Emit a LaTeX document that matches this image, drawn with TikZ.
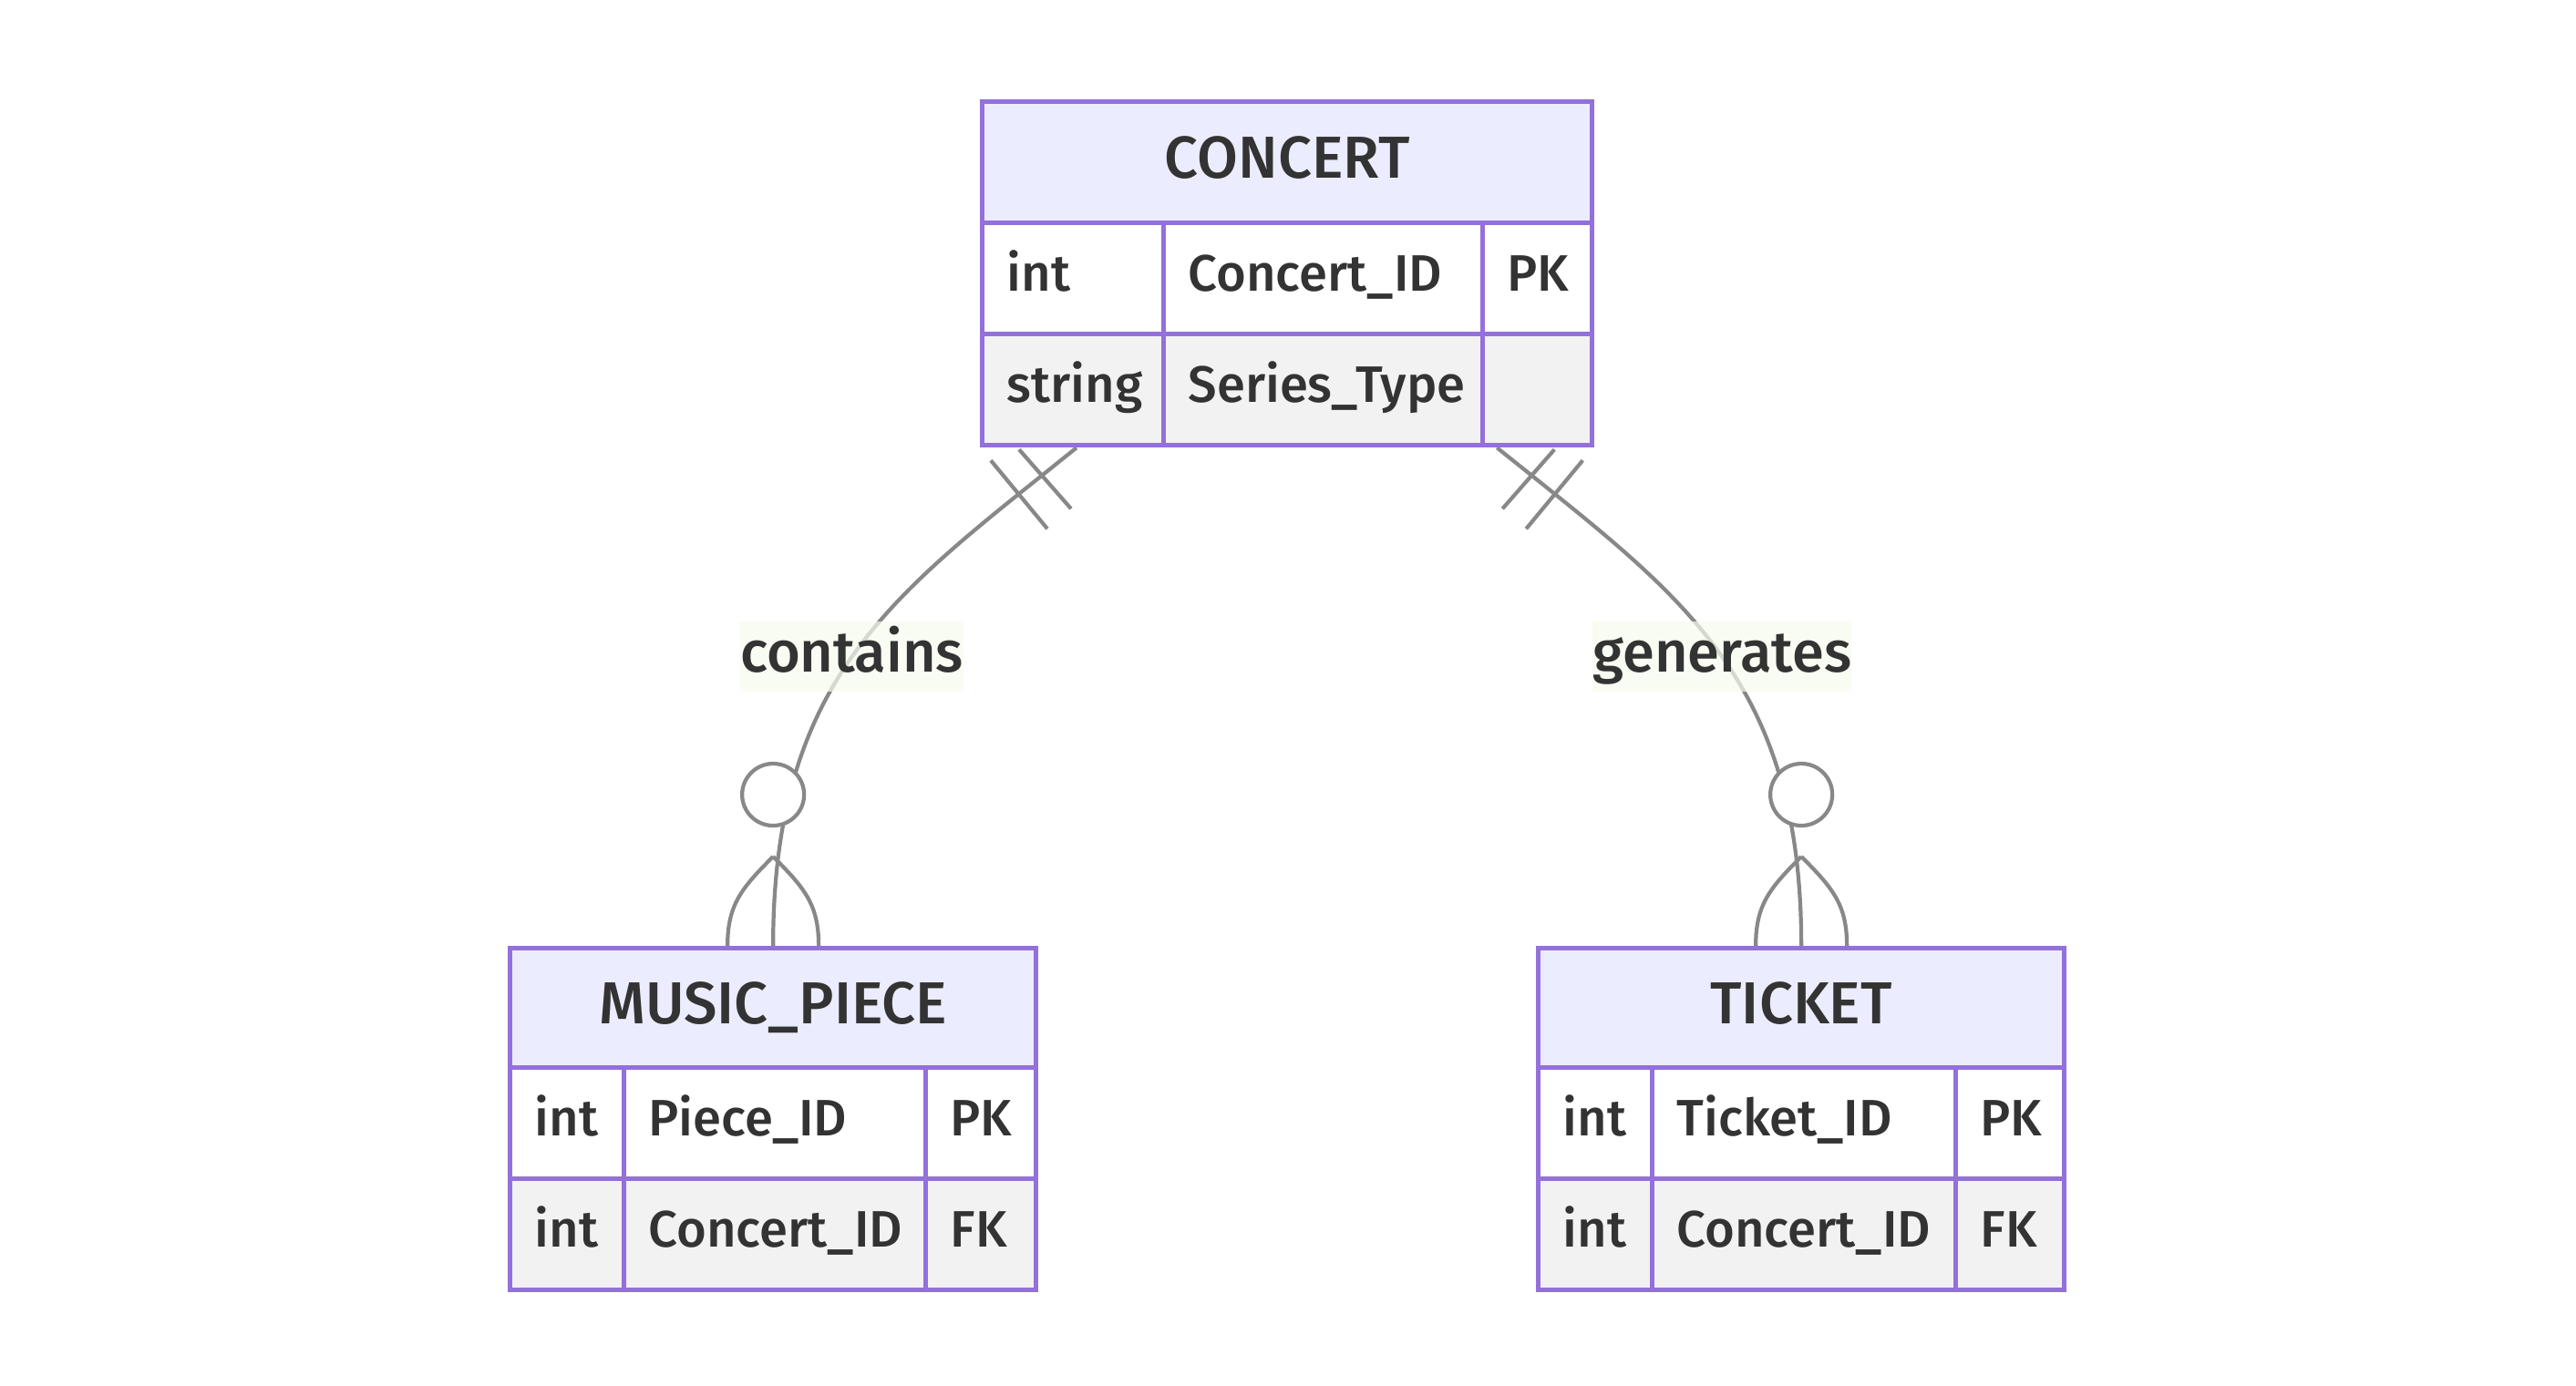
\documentclass[tikz,border=0pt]{standalone}
\usepackage{fontspec}
\setmainfont{Fira Sans}[UprightFont={* Medium}]

\definecolor{erborder}{HTML}{9370DB}
\definecolor{erheadfill}{HTML}{ECECFF}
\definecolor{errowfill}{HTML}{F2F2F2}
\definecolor{erline}{HTML}{888888}
\definecolor{ertext}{HTML}{333333}
\definecolor{erlabelfill}{RGB}{246,251,236}

\newcommand{\erhead}{\fontsize{18.5}{22}\selectfont}
\newcommand{\erattr}{\fontsize{16}{19}\selectfont}
\newcommand{\erlabel}{\fontsize{18}{22}\selectfont}

\tikzset{
  cell/.style={draw=erborder, line width=1.5pt, inner xsep=0.27cm, inner ysep=0pt,
    anchor=north west, align=left, text=ertext, font=\erattr,
    minimum height=1.22cm, text height=12.5pt, text depth=4.6pt},
  headcell/.style={cell, fill=erheadfill, align=center, inner xsep=0pt, font=\erhead,
    text height=14.5pt, text depth=4.4pt},
  oddcell/.style={cell, fill=white},
  evencell/.style={cell, fill=errowfill},
  rel/.style={draw=erline, line width=1.2pt},
  relname/.style={fill=erlabelfill, fill opacity=0.7, text opacity=1, text=ertext,
    font=\erlabel, inner xsep=0pt, inner ysep=0pt, text height=15.7pt, text depth=6.2pt},
  zeroend/.style={circle, draw=erline, line width=1.2pt, fill=white,
    minimum size=0.68cm, inner sep=0pt}
}

\begin{document}
\begin{tikzpicture}[x=1cm, y=-1cm]
\useasboundingbox (0,0) rectangle (28.26,15.20);

% CONCERT
\node[headcell, text width=6.69cm, minimum height=1.33cm] (concert) at (10.75,1.09) {CONCERT};
\node[oddcell, text width=1.45cm] (concert-t1) at (10.75,2.42) {int};
\node[oddcell, text width=2.96cm] (concert-n1) at (12.74,2.42) {Concert\_ID};
\node[oddcell, text width=0.66cm] (concert-k1) at (16.24,2.42) {PK};
\node[evencell, text width=1.45cm] (concert-t2) at (10.75,3.64) {string};
\node[evencell, text width=2.96cm] (concert-n2) at (12.74,3.64) {Series\_Type};
\node[evencell, text width=0.66cm] (concert-k2) at (16.24,3.64) {};

% MUSIC_PIECE
\node[headcell, text width=5.77cm, minimum height=1.31cm] (piece) at (5.57,10.38) {MUSIC\_PIECE};
\node[oddcell, text width=0.71cm] (piece-t1) at (5.57,11.69) {int};
\node[oddcell, text width=2.77cm] (piece-n1) at (6.82,11.69) {Piece\_ID};
\node[oddcell, text width=0.67cm] (piece-k1) at (10.13,11.69) {PK};
\node[evencell, text width=0.71cm] (piece-t2) at (5.57,12.91) {int};
\node[evencell, text width=2.77cm] (piece-n2) at (6.82,12.91) {Concert\_ID};
\node[evencell, text width=0.67cm] (piece-k2) at (10.13,12.91) {FK};

% TICKET
\node[headcell, text width=5.77cm, minimum height=1.31cm] (ticket) at (16.85,10.38) {TICKET};
\node[oddcell, text width=0.71cm] (ticket-t1) at (16.85,11.69) {int};
\node[oddcell, text width=2.79cm] (ticket-n1) at (18.10,11.69) {Ticket\_ID};
\node[oddcell, text width=0.65cm] (ticket-k1) at (21.43,11.69) {PK};
\node[evencell, text width=0.71cm] (ticket-t2) at (16.85,12.91) {int};
\node[evencell, text width=2.79cm] (ticket-n2) at (18.10,12.91) {Concert\_ID};
\node[evencell, text width=0.65cm] (ticket-k2) at (21.43,12.91) {FK};

% contains
\coordinate (contains-top) at ([xshift=1.06cm]concert-t2.south west);
\draw[rel] (contains-top) .. controls +(-1.95,1.575) and +(0,-3) .. (piece.north)
  node[relname, pos=0.52] (contains) {contains};
\draw[rel] ([shift={(-0.94,0.14)}]contains-top) -- ++(0.62,0.75);
\draw[rel] ([shift={(-0.63,0.02)}]contains-top) -- ++(0.57,0.65);
\node[zeroend] (contains-zero) at ([yshift=1.66cm]piece.north) {};
\coordinate (contains-fork) at ([yshift=0.98cm]piece.north);
\draw[rel] (contains-fork) .. controls +(-0.35,0.35) and +(0,-0.45) .. ([xshift=-0.5cm]piece.north);
\draw[rel] (contains-fork) .. controls +(0.35,0.35) and +(0,-0.45) .. ([xshift=0.5cm]piece.north);

% generates
\coordinate (generates-top) at ([xshift=-1.07cm]concert-k2.south east);
\draw[rel] (generates-top) .. controls +(1.95,1.575) and +(0,-3) .. (ticket.north)
  node[relname, pos=0.52] (generates) {generates};
\draw[rel] ([shift={(0.94,0.14)}]generates-top) -- ++(-0.62,0.75);
\draw[rel] ([shift={(0.63,0.02)}]generates-top) -- ++(-0.57,0.65);
\node[zeroend] (generates-zero) at ([yshift=1.66cm]ticket.north) {};
\coordinate (generates-fork) at ([yshift=0.98cm]ticket.north);
\draw[rel] (generates-fork) .. controls +(-0.35,0.35) and +(0,-0.45) .. ([xshift=-0.5cm]ticket.north);
\draw[rel] (generates-fork) .. controls +(0.35,0.35) and +(0,-0.45) .. ([xshift=0.5cm]ticket.north);

\end{tikzpicture}
\end{document}
